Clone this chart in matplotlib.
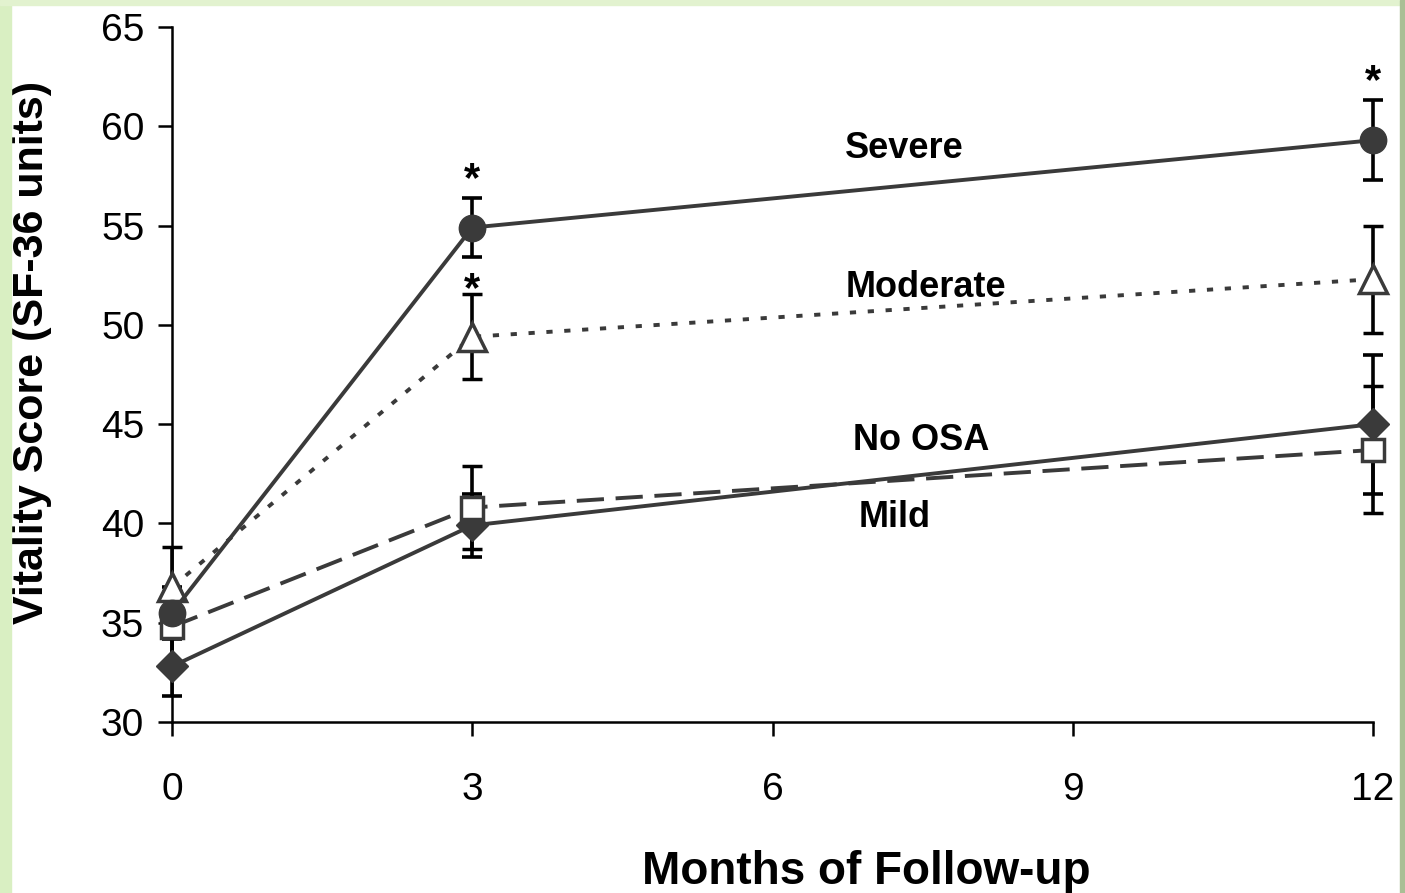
import matplotlib
matplotlib.use("Agg")
from matplotlib import pyplot as plt
from matplotlib.patches import Rectangle

plt.rcParams['font.family'] = ['Liberation Sans', 'DejaVu Sans']

months = [0, 3, 12]

severe = [35.5, 54.9, 59.3]
severe_err = [1.3, 1.5, 2.0]
moderate = [36.8, 49.4, 52.3]
moderate_err = [2.0, 2.15, 2.7]
mild = [34.8, 40.8, 43.7]
mild_err = [1.8, 2.1, 3.2]
no_osa = [32.8, 39.9, 45.0]
no_osa_err = [1.5, 1.6, 3.5]

# indices of points marked with a significance star
stars_severe = [1, 2]
stars_moderate = [1]

label_pos = {'Severe': (7.32, 58.9), 'Moderate': (7.53, 51.9),
             'No OSA': (7.49, 44.2), 'Mild': (7.22, 40.3)}

gray = '#3a3a3a'
fig = plt.figure(figsize=(14.05, 8.93), dpi=100)
fig.patches.append(Rectangle((0, 0), 11/1405, 1, transform=fig.transFigure, color='#d9efc2', zorder=0))
fig.patches.append(Rectangle((0, 1-5/893), 1, 5/893, transform=fig.transFigure, color='#e2f2cf', zorder=0))
fig.patches.append(Rectangle((1400/1405, 0), 5/1405, 1, transform=fig.transFigure, color='#a9bf95', zorder=0))

ax = fig.add_axes([172/1405, 1-722/893, (1373-172)/1405, (722-27)/893])

ebkw = dict(ecolor='black', elinewidth=2.6, capsize=7, capthick=2.6)
series = [
    (no_osa, no_osa_err, dict(ls='-', marker='D', ms=16, mfc=gray)),
    (mild, mild_err, dict(ls=(0, (7, 3)), marker='s', ms=16, mfc='white', mew=2.5)),
    (moderate, moderate_err, dict(ls=(0, (1.6, 3)), marker='^', ms=20, mfc='white', mew=2.5)),
    (severe, severe_err, dict(ls='-', marker='o', ms=19, mfc=gray)),
]
for vals, errs, style in series:
    cont = ax.errorbar(months, vals, yerr=errs, color=gray, lw=2.8, mec=gray, zorder=3, **style, **ebkw)
    artists = [cont.lines[0]] + list(cont.lines[1]) + list(cont.lines[2])
    for artist in artists:
        artist.set_clip_on(False)

for i in stars_severe:
    ax.text(months[i], severe[i] + severe_err[i] - 0.1, '*', ha='center', va='bottom',
            fontsize=30, fontweight='bold')
for i in stars_moderate:
    ax.text(months[i], moderate[i] + moderate_err[i] - 0.8, '*', ha='center', va='bottom',
            fontsize=30, fontweight='bold')

for name, (x, y) in label_pos.items():
    ax.text(x, y, name, ha='center', va='center', fontsize=26, fontweight='bold')

ax.set_xlim(0, 12)
ax.set_ylim(30, 65)
ax.set_xticks([0, 3, 6, 9, 12])
ax.set_yticks(range(30, 66, 5))
ax.spines['top'].set_visible(False)
ax.spines['right'].set_visible(False)
for s in ['left', 'bottom']:
    ax.spines[s].set_linewidth(1.8)
ax.tick_params(axis='both', direction='out', length=10, width=1.8, labelsize=28, pad=10)
ax.tick_params(axis='x', pad=26)
ax.set_xlabel('Months of Follow-up', fontsize=33, fontweight='bold')
ax.xaxis.set_label_coords(0.578, -0.184)
ax.set_ylabel('Vitality Score (SF-36 units)', fontsize=31, fontweight='bold')
ax.yaxis.set_label_coords(-0.1, 0.532)

fig.savefig('out.png', dpi=100)
